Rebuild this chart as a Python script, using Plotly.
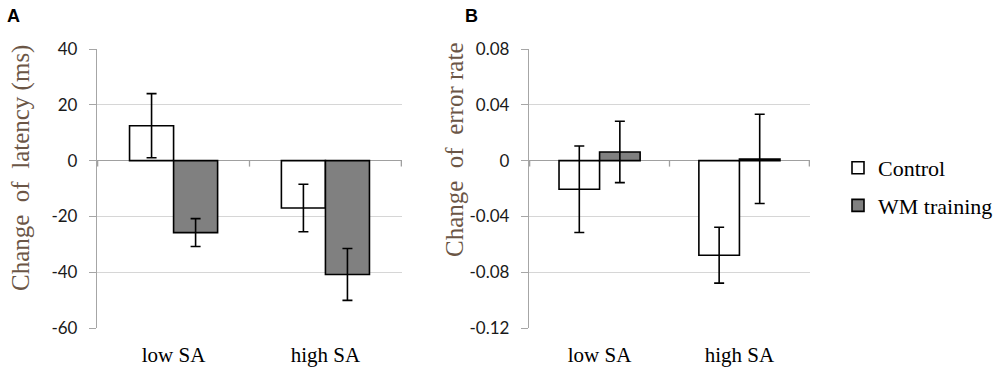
import plotly.graph_objects as go
from plotly.subplots import make_subplots

categories = ["low SA", "high SA"]
series_names = ["Control", "WM training"]

latency_control = [12.5, -17.0]
latency_control_err = [11.5, 8.5]
latency_wm = [-25.8, -40.8]
latency_wm_err = [5.0, 9.3]

error_control = [-0.0205, -0.0678]
error_control_err = [0.031, 0.020]
error_wm = [0.0062, 0.0012]
error_wm_err = [0.022, 0.032]

latency_ticks = [-60, -40, -20, 0, 20, 40]
latency_ticklabels = ["-60", "-40", "-20", "0", "20", "40"]
error_ticks = [-0.12, -0.08, -0.04, 0, 0.04, 0.08]
error_ticklabels = ["-0.12", "-0.08", "-0.04", "0", "0.04", "0.08"]

W, H = 1000, 376
T, B = 49, 48
PH = H - T - B


def py(pixel_y):
    """pixel row -> paper fraction"""
    return (H - B - pixel_y) / PH


fills = ["#ffffff", "#808080"]

fig = make_subplots(rows=1, cols=2)


def add_bars(col, vals, errs, name, fill, show):
    fig.add_trace(go.Bar(
        x=categories, y=vals, name=name, showlegend=show, legendgroup=name,
        marker=dict(color=fill, line=dict(color="#000000", width=1.6)),
        error_y=dict(type="data", array=errs, visible=True, color="#000000",
                     thickness=1.6, width=5),
    ), row=1, col=col)


add_bars(1, latency_control, latency_control_err, series_names[0], fills[0], True)
add_bars(1, latency_wm, latency_wm_err, series_names[1], fills[1], True)
add_bars(2, error_control, error_control_err, series_names[0], fills[0], False)
add_bars(2, error_wm, error_wm_err, series_names[1], fills[1], False)

SERIF = "Liberation Serif"
tickfont = dict(family="Lato, Open Sans, sans-serif", size=17, color="#1a1a1a")
xfont = dict(family=SERIF, size=21, color="#000000")

common_y = dict(showline=True, linecolor="#a6a6a6", linewidth=1.3,
                ticks="outside", ticklen=7, tickcolor="#a6a6a6", tickwidth=1.3,
                showgrid=True, gridcolor="#d6d6d6", gridwidth=1.3,
                zeroline=True, zerolinecolor="#a0a0a0", zerolinewidth=1.3,
                tickfont=tickfont, ticklabelstandoff=8)
common_x = dict(showline=False, ticks="", showgrid=False, zeroline=False,
                tickfont=xfont, ticklabelstandoff=12)

fig.update_xaxes(domain=[97 / W, 402 / W], row=1, col=1, **common_x)
fig.update_xaxes(domain=[529 / W, 810 / W], row=1, col=2, **common_x)
fig.update_yaxes(range=[-60, 40], tickvals=latency_ticks, ticktext=latency_ticklabels,
                 row=1, col=1, **common_y)
fig.update_yaxes(range=[-0.12, 0.08], tickvals=error_ticks, ticktext=error_ticklabels,
                 row=1, col=2, **common_y)

# small tick marks on the zero line at category boundaries
for xr, yr in (("x", "y"), ("x2", "y2")):
    for b in (-0.5, 0.5, 1.5):
        fig.add_shape(type="line", xref=xr, yref=yr, x0=b, x1=b,
                      ysizemode="pixel", yanchor=0, y0=0, y1=-6,
                      line=dict(color="#a0a0a0", width=1.3))

titlefont = dict(family=SERIF, size=25, color="#6b5646")
fig.add_annotation(text="Change  of  latency (ms)", xref="paper", yref="paper",
                   x=21 / W, y=py(168), textangle=-90, showarrow=False,
                   xanchor="center", yanchor="middle", font=titlefont)
fig.add_annotation(text="Change  of  error rate", xref="paper", yref="paper",
                   x=454 / W, y=py(150), textangle=-90, showarrow=False,
                   xanchor="center", yanchor="middle", font=titlefont)

panelfont = dict(family="Liberation Sans, Arial, sans-serif", size=18, color="#000000")
fig.add_annotation(text="<b>A</b>", xref="paper", yref="paper", x=5 / W, y=py(4),
                   showarrow=False, xanchor="left", yanchor="top", font=panelfont)
fig.add_annotation(text="<b>B</b>", xref="paper", yref="paper", x=463 / W, y=py(4),
                   showarrow=False, xanchor="left", yanchor="top", font=panelfont)

fig.update_layout(
    width=W, height=H,
    margin=dict(l=0, r=0, t=T, b=B),
    paper_bgcolor="#ffffff", plot_bgcolor="#ffffff",
    barmode="group", bargap=0.42, bargroupgap=0,
    legend=dict(x=838 / W, y=py(147), xanchor="left", yanchor="top",
                font=dict(family=SERIF, size=22, color="#000000"),
                traceorder="grouped", tracegroupgap=6, bgcolor="rgba(0,0,0,0)"),
)

fig.write_html("out.html", config={"displayModeBar": False},
               post_script="document.body.style.margin='0px';")
